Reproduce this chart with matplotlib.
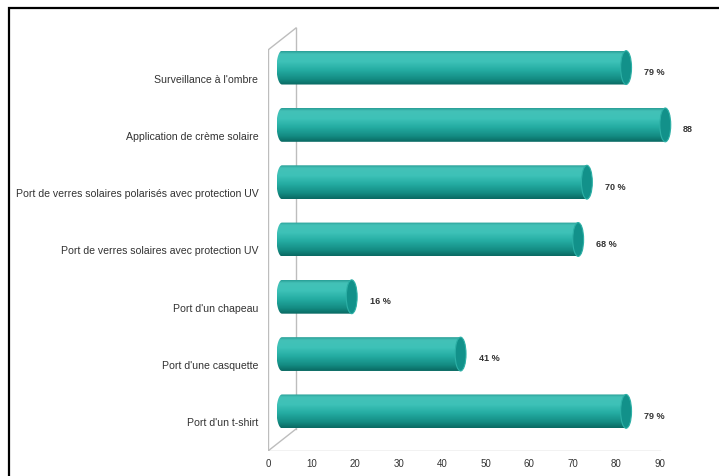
import numpy as np
import matplotlib
matplotlib.use("Agg")
import matplotlib.pyplot as plt
from matplotlib.patches import Ellipse, Rectangle
from matplotlib.path import Path
from matplotlib.colors import LinearSegmentedColormap
from matplotlib.transforms import Bbox

# ---- data (top to bottom) ----
categories = [
    "Surveillance à l'ombre",
    "Application de crème solaire",
    "Port de verres solaires polarisés avec protection UV",
    "Port de verres solaires avec protection UV",
    "Port d'un chapeau",
    "Port d'une casquette",
    "Port d'un t-shirt",
]
values = [79, 88, 70, 68, 16, 41, 79]
value_labels = ["79 %", "88", "70 %", "68 %", "16 %", "41 %", "79 %"]
xticks = [0, 10, 20, 30, 40, 50, 60, 70, 80, 90]

plt.rcParams['font.family'] = ['Liberation Sans', 'DejaVu Sans']

W, H = 719, 476
fig = plt.figure(figsize=(W / 100, H / 100), dpi=100)
fig.patch.set_facecolor('white')

# axes geometry (pixels): x=0 -> 268, 10 units = 43.56 px ; y=0 -> 451, 1 cat = 57.29 px
px_per_x = 43.556 / 10
px_per_y = 57.29
x0_px, y0_px = 268, 451
xmax, ymax = 96, 7.5
ax = fig.add_axes([x0_px / W, (H - y0_px) / H,
                   xmax * px_per_x / W, ymax * px_per_y / H])
ax.set_xlim(0, xmax)
ax.set_ylim(0, ymax)
for s in ax.spines.values():
    s.set_visible(False)
ax.set_facecolor('none')

n = len(categories)
# 3D depth offset (data units)
dx = 28 / px_per_x
dy = 22 / px_per_y

wall = '#bdbdbd'
lw = 1.0
ax.plot([0, 90], [0, 0], color=wall, lw=lw, zorder=1)
ax.plot([0, 0], [0, n], color=wall, lw=lw, zorder=1)
ax.plot([dx, dx], [dy, n + dy], color=wall, lw=lw, zorder=1)
ax.plot([0, dx], [n, n + dy], color=wall, lw=lw, zorder=1)
ax.plot([0, dx], [0, dy], color=wall, lw=lw, zorder=1)

cmap = LinearSegmentedColormap.from_list('cyl', [
    (0.0, '#2a9f97'), (0.08, '#43c1b7'), (0.3, '#3ec2b8'),
    (0.55, '#25ada3'), (0.82, '#148d84'), (1.0, '#0a6a63')])
grad = np.linspace(0, 1, 64).reshape(-1, 1)

bar_h = 0.59
cap_w = 2.5
for i, (v, lab) in enumerate(zip(values, value_labels)):
    yc = (n - 1 - i) + 0.5 + dy / 2
    xl = dx / 2
    xr = v + dx / 2
    yt, yb = yc + bar_h / 2, yc - bar_h / 2
    th = np.linspace(np.pi / 2, 3 * np.pi / 2, 40)
    ex = xl + (cap_w / 2) * np.cos(th)
    ey = yc + (bar_h / 2) * np.sin(th)
    verts = [(xr, yt)] + list(zip(ex, ey)) + [(xr, yb), (xr, yt)]
    codes = [Path.MOVETO] + [Path.LINETO] * (len(verts) - 2) + [Path.CLOSEPOLY]
    path = Path(verts, codes)
    im = ax.imshow(grad, cmap=cmap, aspect='auto', origin='upper',
                   extent=(xl - cap_w / 2, xr, yb, yt), zorder=3,
                   interpolation='bilinear')
    im.set_clip_path(path, transform=ax.transData)
    im.set_clip_box(fig.bbox)
    cap = Ellipse((xr, yc), cap_w, bar_h, facecolor='#12918a',
                  edgecolor='#2cb0a6', lw=0.8, zorder=4)
    ax.add_patch(cap)
    ax.annotate(lab, xy=(xr + cap_w / 2, yc), xytext=(9, -3.5),
                textcoords='offset points', ha='left', va='center',
                fontsize=6.5, color='#333333', fontweight='bold', zorder=5)

ax.set_xlim(0, xmax)
ax.set_ylim(0, ymax)

ax.set_yticks(np.arange(n) + 0.5)
ax.set_yticklabels(categories[::-1], fontsize=7.6, color='#333333')
ax.set_xticks(xticks)
ax.set_xticklabels([str(t) for t in xticks], fontsize=7, color='#333333')
ax.tick_params(axis='both', length=0)
ax.tick_params(axis='y', pad=7)
ax.tick_params(axis='x', pad=6)

clip = Bbox.from_extents(10, 0, W, H)
for t in ax.get_yticklabels():
    t.set_clip_box(clip)
    t.set_clip_on(True)

# partial frame around the figure
fig.add_artist(Rectangle((8.5 / W, -0.1), 2, (H - 8) / H + 0.1,
                         transform=fig.transFigure, fill=False,
                         edgecolor='black', lw=1.6))

fig.savefig('out.png', dpi=100)
